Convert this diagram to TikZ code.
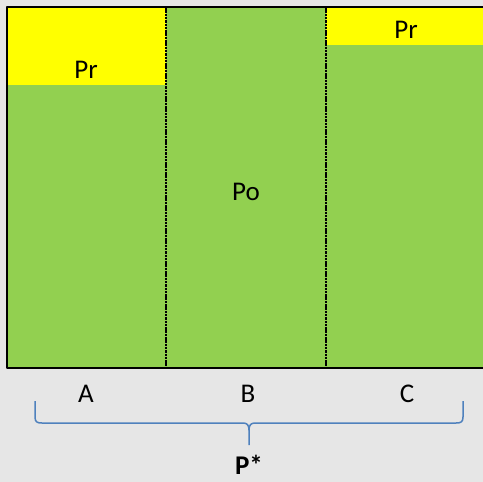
\documentclass[tikz,border=0pt]{standalone}
\usepackage{fontspec}
\setmainfont{Carlito}
\definecolor{bggray}{HTML}{E6E6E6}
\definecolor{pogreen}{HTML}{92D050}
\definecolor{pryellow}{HTML}{FFFF00}
\definecolor{braceblue}{HTML}{4F81BD}
\tikzset{
  lbl/.style={font=\fontsize{27}{32}\selectfont,inner sep=0pt},
  split/.style={draw=black,line width=1.6pt,dash pattern=on 2.5pt off 0.8pt},
}
\begin{document}
\begin{tikzpicture}[x=1pt,y=-1pt,line cap=butt,line join=round]
  \useasboundingbox[fill=bggray] (0,0) rectangle (483,482);
  \begin{scope}
    \clip (0,0) rectangle (483,482);
    \fill[pogreen] (7,7) rectangle (490,368);
    \fill[pryellow] (7,7) rectangle (166,85);
    \fill[pryellow] (326,7) rectangle (490,45);
    \draw[split] (166,7) -- (166,368);
    \draw[split] (326,7) -- (326,368);
    \draw[line width=2pt] (490,7) -- (7,7) -- (7,368) -- (490,368);
  \end{scope}
  \node[lbl] (prA) at (86,70) {Pr};
  \node[lbl] (prC) at (406,30) {Pr};
  \node[lbl] (po) at (246,192) {Po};
  \node[lbl] (colA) at (86,394) {A};
  \node[lbl] (colB) at (248,394) {B};
  \node[lbl] (colC) at (407,394) {C};
  % brace under the three columns
  \draw[braceblue,line width=1.5pt] (35,401) -- (35,417)
    .. controls (35,422) and (37,423) .. (42,423) -- (243,423)
    .. controls (247,423) and (249,425) .. (249,430) -- (249,445);
  \draw[braceblue,line width=1.5pt] (463,401) -- (463,417)
    .. controls (463,422) and (461,423) .. (456,423) -- (255,423)
    .. controls (251,423) and (249,425) .. (249,430);
  \node[lbl,font=\fontsize{27}{32}\selectfont\bfseries] (pstar) at (249,465) {P*};
\end{tikzpicture}
\end{document}
